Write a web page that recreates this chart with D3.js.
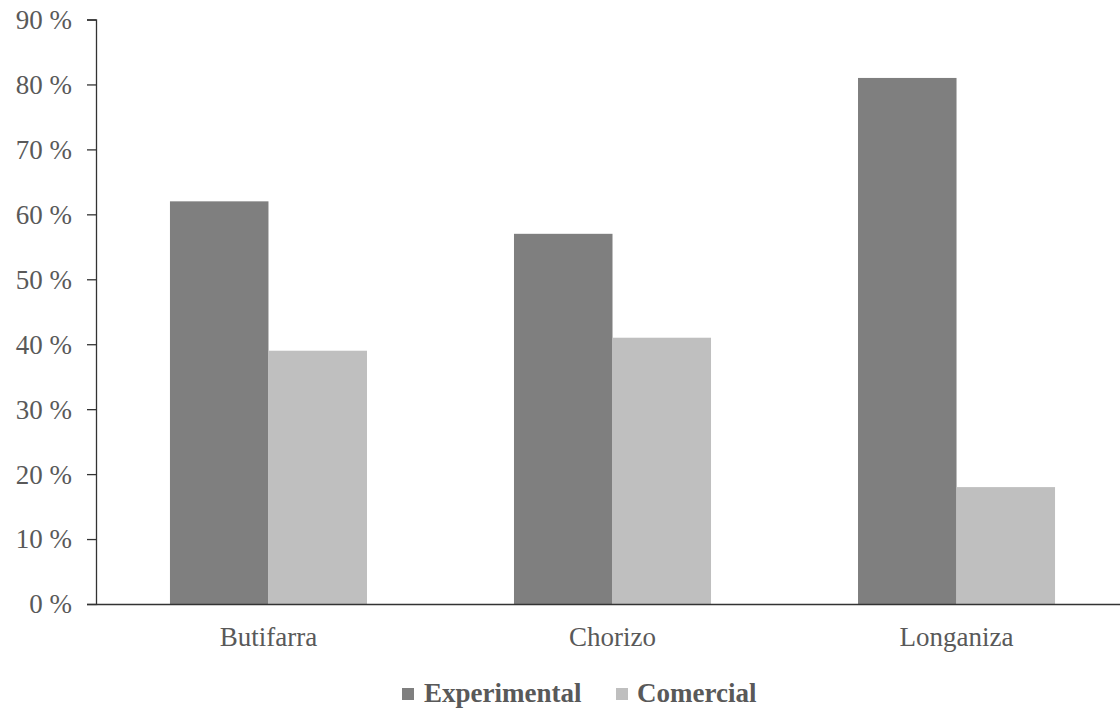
<!DOCTYPE html>
<html><head><meta charset="utf-8">
<script src="https://cdn.jsdelivr.net/npm/d3@7"></script>
<style>body{margin:0;background:#fff}svg{display:block}</style>
</head><body><svg id="c" width="1120" height="708"></svg>
<script>
const categories = ["Butifarra", "Chorizo", "Longaniza"];
const seriesNames = ["Experimental", "Comercial"];
const experimental = [62, 57, 81];
const comercial = [39, 41, 18];
const yTicks = [0, 10, 20, 30, 40, 50, 60, 70, 80, 90];
const colors = ["#7f7f7f", "#bfbfbf"];

const svg = d3.select("#c");
const font = "'Liberation Serif', 'Times New Roman', serif";
const textColor = "#595959";
const mLeft = 96, mRight = 1129, mTop = 19.5, mBottom = 604;

const x = d3.scaleBand().domain(categories).range([mLeft, mRight]).paddingInner(0.4273).paddingOuter(0.215);
const xs = d3.scaleBand().domain(seriesNames).range([0, x.bandwidth()]);
const y = d3.scaleLinear().domain([0, 90]).range([mBottom, mTop]);

const data = categories.map((c, i) => ({cat: c, vals: [experimental[i], comercial[i]]}));

const g = svg.append("g");
g.selectAll("g.grp").data(data).join("g").attr("class", "grp")
  .attr("transform", d => `translate(${x(d.cat)},0)`)
  .selectAll("rect").data(d => d.vals.map((v, j) => ({s: seriesNames[j], v, j})))
  .join("rect")
  .attr("x", d => xs(d.s)).attr("width", xs.bandwidth())
  .attr("y", d => y(d.v)).attr("height", d => mBottom - y(d.v))
  .attr("fill", d => colors[d.j]);

// y axis
const ya = svg.append("g").attr("transform", `translate(${mLeft},0)`)
  .call(d3.axisLeft(y).tickValues(yTicks).tickSize(9).tickSizeOuter(9).tickPadding(15).tickFormat(d => d + " %"));
ya.select(".domain").attr("stroke", "#333").attr("stroke-width", 1.3);
ya.selectAll(".tick line").attr("stroke", "#333").attr("stroke-width", 1.3);
ya.selectAll("text").attr("font-family", font).attr("font-size", 27).attr("fill", textColor).attr("dy", "0.33em");

// x axis
const xa = svg.append("g").attr("transform", `translate(0,${mBottom})`)
  .call(d3.axisBottom(x).tickSize(0).tickPadding(0));
xa.select(".domain").attr("stroke", "#333").attr("stroke-width", 1.3);
xa.selectAll("text").attr("font-family", font).attr("font-size", 27).attr("fill", textColor).attr("dy", null).attr("y", 42);

// legend
const legendItems = [{name: seriesNames[0], sx: 402, tx: 424}, {name: seriesNames[1], sx: 616, tx: 637}];
const lg = svg.append("g");
legendItems.forEach((it, i) => {
  lg.append("rect").attr("x", it.sx).attr("y", 688).attr("width", 12).attr("height", 12).attr("fill", colors[i]);
  lg.append("text").attr("x", it.tx).attr("y", 702).attr("font-family", font).attr("font-size", 27)
    .attr("font-weight", "bold").attr("fill", textColor).text(it.name);
});
</script></body></html>
